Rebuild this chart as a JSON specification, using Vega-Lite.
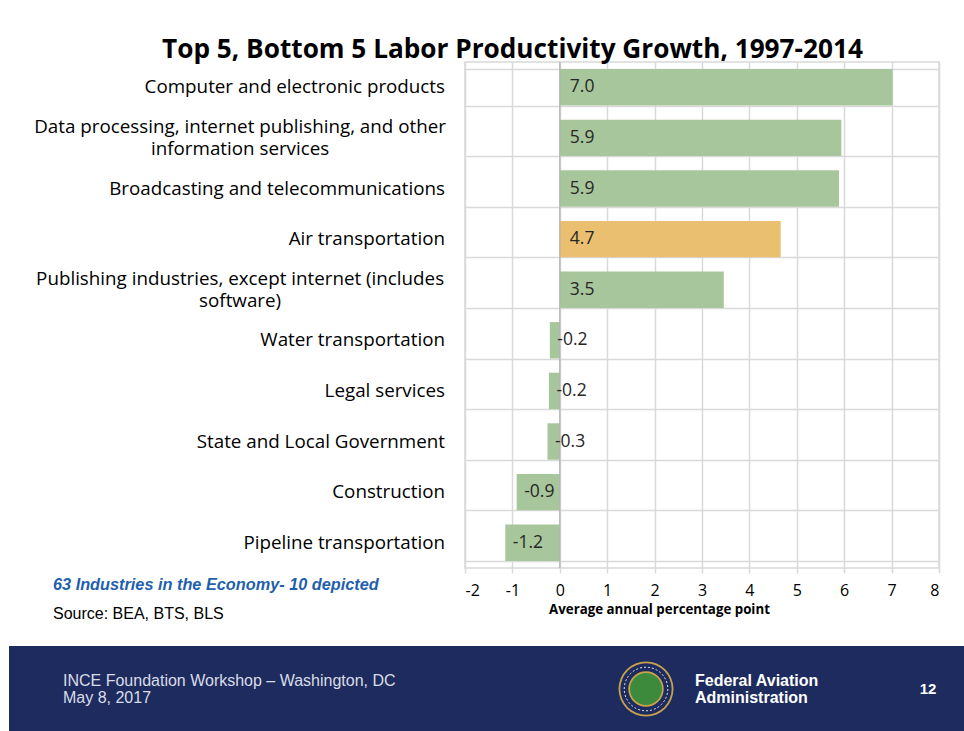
{
  "$schema": "https://vega.github.io/schema/vega-lite/v6.json",
  "background": "white",
  "padding": {"left": 9, "top": 37, "right": 0, "bottom": 0},
  "title": {
    "text": "Top 5, Bottom 5 Labor Productivity Growth, 1997-2014",
    "font": "Open Sans", "fontSize": 26.2, "fontWeight": "bold", "color": "#000000",
    "anchor": "middle", "dx": 26, "offset": -3
  },
  "datasets": {
    "industries": [
      {"industry": "Computer and electronic products", "value": 7.02, "label": "7.0"},
      {"industry": "Data processing, internet publishing, and other|information services", "value": 5.94, "label": "5.9"},
      {"industry": "Broadcasting and telecommunications", "value": 5.89, "label": "5.9"},
      {"industry": "Air transportation", "value": 4.66, "label": "4.7"},
      {"industry": "Publishing industries, except internet (includes|software)", "value": 3.46, "label": "3.5"},
      {"industry": "Water transportation", "value": -0.21, "label": "-0.2"},
      {"industry": "Legal services", "value": -0.23, "label": "-0.2"},
      {"industry": "State and Local Government", "value": -0.26, "label": "-0.3"},
      {"industry": "Construction", "value": -0.91, "label": "-0.9"},
      {"industry": "Pipeline transportation", "value": -1.15, "label": "-1.2"}
    ],
    "footer": [
      {"slot": "left", "text": "INCE Foundation Workshop – Washington, DC\nMay 8, 2017"},
      {"slot": "logo", "text": ""},
      {"slot": "org", "text": "Federal Aviation\nAdministration"},
      {"slot": "page", "text": "12"}
    ]
  },
  "spacing": 23,
  "vconcat": [
    {
      "spacing": 17,
      "hconcat": [
        {
          "width": 436,
          "height": 506,
          "view": {"stroke": null},
          "data": {"name": "industries"},
          "title": {
            "text": "63 Industries in the Economy- 10 depicted",
            "subtitle": "Source: BEA, BTS, BLS",
            "orient": "bottom", "anchor": "start", "frame": "group",
            "dx": 44, "offset": 9,
            "font": "Liberation Sans", "fontSize": 16.3, "fontWeight": "bold", "fontStyle": "italic", "color": "#1f5fae",
            "subtitleFont": "Liberation Sans", "subtitleFontSize": 16, "subtitleColor": "#000000", "subtitlePadding": 13
          },
          "encoding": {
            "y": {"field": "industry", "type": "nominal", "sort": null, "scale": {"paddingInner": 0.28, "paddingOuter": 0.14}, "axis": null},
            "x": {"datum": 1, "type": "quantitative", "scale": {"domain": [0, 1]}, "axis": null}
          },
          "layer": [
            {
              "mark": {"type": "text", "align": "right", "baseline": "middle", "font": "Open Sans", "fontSize": 18.8, "color": "#000000"},
              "encoding": {
                "text": {"condition": {"test": "indexof(datum.industry, '|') >= 0", "value": ""}, "field": "industry", "type": "nominal"}
              }
            },
            {
              "mark": {"type": "text", "align": "center", "baseline": "middle", "lineBreak": "|", "lineHeight": 22, "dy": -11, "font": "Open Sans", "fontSize": 18.8, "color": "#000000"},
              "encoding": {
                "x": {"datum": 0.53, "type": "quantitative"},
                "text": {"condition": {"test": "indexof(datum.industry, '|') < 0", "value": ""}, "field": "industry", "type": "nominal"}
              }
            }
          ]
        },
        {
          "width": 474,
          "height": 506,
          "view": {"stroke": "#d9d9d9", "strokeWidth": 1.5},
          "data": {"name": "industries"},
          "layer": [
            {
              "mark": {"type": "bar"},
              "encoding": {
                "y": {"field": "industry", "type": "nominal", "sort": null, "scale": {"paddingInner": 0.28, "paddingOuter": 0.14},
                      "axis": {"title": null, "labels": false, "ticks": false, "domain": false, "grid": true, "tickBand": "extent", "gridColor": "#d9d9d9", "gridWidth": 1.5}},
                "x": {"field": "value", "type": "quantitative", "scale": {"domain": [-2, 8], "nice": false},
                      "axis": {"values": [-2, -1, 0, 1, 2, 3, 4, 5, 6, 7, 8], "labelExpr": "'' + datum.value",
                               "grid": true, "gridColor": "#d9d9d9", "gridWidth": 1.5, "domain": false,
                               "ticks": true, "tickColor": "#d9d9d9", "tickSize": 5, "tickWidth": 1.5,
                               "labelFont": "Open Sans", "labelFontSize": 16, "labelColor": "#000000", "labelPadding": 9,
                               "title": "Average annual percentage point", "titleFont": "Open Sans", "titleFontSize": 13.3, "titleFontWeight": "bold", "titleColor": "#000000", "titlePadding": 4, "titleX": 194}},
                "x2": {"datum": 0},
                "color": {"condition": {"test": "datum.industry === 'Air transportation'", "value": "#eabf6f"}, "value": "#a8c69b"}
              }
            },
            {
              "data": {"values": [{"line": "zero"}]},
              "mark": {"type": "rule", "color": "#b0b0b0", "strokeWidth": 1.2},
              "encoding": {"x": {"datum": 0}}
            },
            {
              "transform": [{"filter": "datum.value >= 0"}],
              "mark": {"type": "text", "align": "left", "baseline": "middle", "dx": 10, "font": "Open Sans", "fontSize": 17.5, "color": "#262626"},
              "encoding": {
                "y": {"field": "industry", "type": "nominal", "sort": null},
                "x": {"datum": 0},
                "text": {"field": "label"}
              }
            },
            {
              "transform": [{"filter": "datum.value < 0"}],
              "mark": {"type": "text", "align": "left", "baseline": "middle", "dx": 7.5, "font": "Open Sans", "fontSize": 17.5, "color": "#262626"},
              "encoding": {
                "y": {"field": "industry", "type": "nominal", "sort": null},
                "x": {"field": "value", "type": "quantitative"},
                "text": {"field": "label"}
              }
            }
          ]
        }
      ]
    },
    {
      "spacing": 0,
      "hconcat": [
        {
          "width": 54, "height": 86,
          "view": {"fill": "#1e2b5e", "stroke": null},
          "data": {"values": []},
          "mark": {"type": "text"},
          "encoding": {"text": {"value": ""}}
        },
        {
          "width": 550, "height": 86,
          "view": {"fill": "#1e2b5e", "stroke": null},
          "data": {"name": "footer"},
          "transform": [{"filter": "datum.slot === 'left'"}],
          "mark": {"type": "text", "align": "left", "baseline": "middle", "dy": -8.5, "lineBreak": "\n", "lineHeight": 17, "font": "Liberation Sans", "fontSize": 16, "color": "#d9dde8"},
          "encoding": {
            "x": {"datum": 0, "type": "quantitative", "scale": {"domain": [0, 1]}, "axis": null},
            "text": {"field": "text"}
          }
        },
        {
          "width": 66, "height": 86,
          "view": {"fill": "#1e2b5e", "stroke": null},
          "data": {"name": "footer"},
          "transform": [{"filter": "datum.slot === 'logo'"}],
          "layer": [
            {"mark": {"type": "point", "shape": "circle", "filled": true, "size": 3019, "color": "#c9a24c", "opacity": 1}},
            {"mark": {"type": "point", "shape": "circle", "filled": true, "size": 2640, "color": "#1e2b5e", "opacity": 1}},
            {"mark": {"type": "point", "shape": "circle", "filled": false, "size": 1900, "color": "#e8e8f0", "strokeWidth": 1, "strokeDash": [2, 2], "opacity": 1}},
            {"mark": {"type": "point", "shape": "circle", "filled": true, "size": 1257, "color": "#c9a24c", "opacity": 1}},
            {"mark": {"type": "point", "shape": "circle", "filled": true, "size": 1018, "color": "#3d8a3c", "opacity": 1}}
          ]
        },
        {
          "width": 16, "height": 86,
          "view": {"fill": "#1e2b5e", "stroke": null},
          "data": {"values": []},
          "mark": {"type": "text"},
          "encoding": {"text": {"value": ""}}
        },
        {
          "width": 205, "height": 86,
          "view": {"fill": "#1e2b5e", "stroke": null},
          "data": {"name": "footer"},
          "transform": [{"filter": "datum.slot === 'org'"}],
          "mark": {"type": "text", "align": "left", "baseline": "middle", "dy": -8.5, "lineBreak": "\n", "lineHeight": 17, "font": "Liberation Sans", "fontSize": 16, "fontWeight": "bold", "color": "#ffffff"},
          "encoding": {
            "x": {"datum": 0, "type": "quantitative", "scale": {"domain": [0, 1]}, "axis": null},
            "text": {"field": "text"}
          }
        },
        {
          "width": 56, "height": 86,
          "view": {"fill": "#1e2b5e", "stroke": null},
          "data": {"name": "footer"},
          "transform": [{"filter": "datum.slot === 'page'"}],
          "mark": {"type": "text", "align": "center", "baseline": "middle", "font": "Liberation Sans", "fontSize": 15, "fontWeight": "bold", "color": "#ffffff"},
          "encoding": {"text": {"field": "text"}}
        },
        {
          "width": 8, "height": 86,
          "view": {"fill": "#1e2b5e", "stroke": null},
          "data": {"values": []},
          "mark": {"type": "text"},
          "encoding": {"text": {"value": ""}}
        }
      ]
    }
  ]
}
